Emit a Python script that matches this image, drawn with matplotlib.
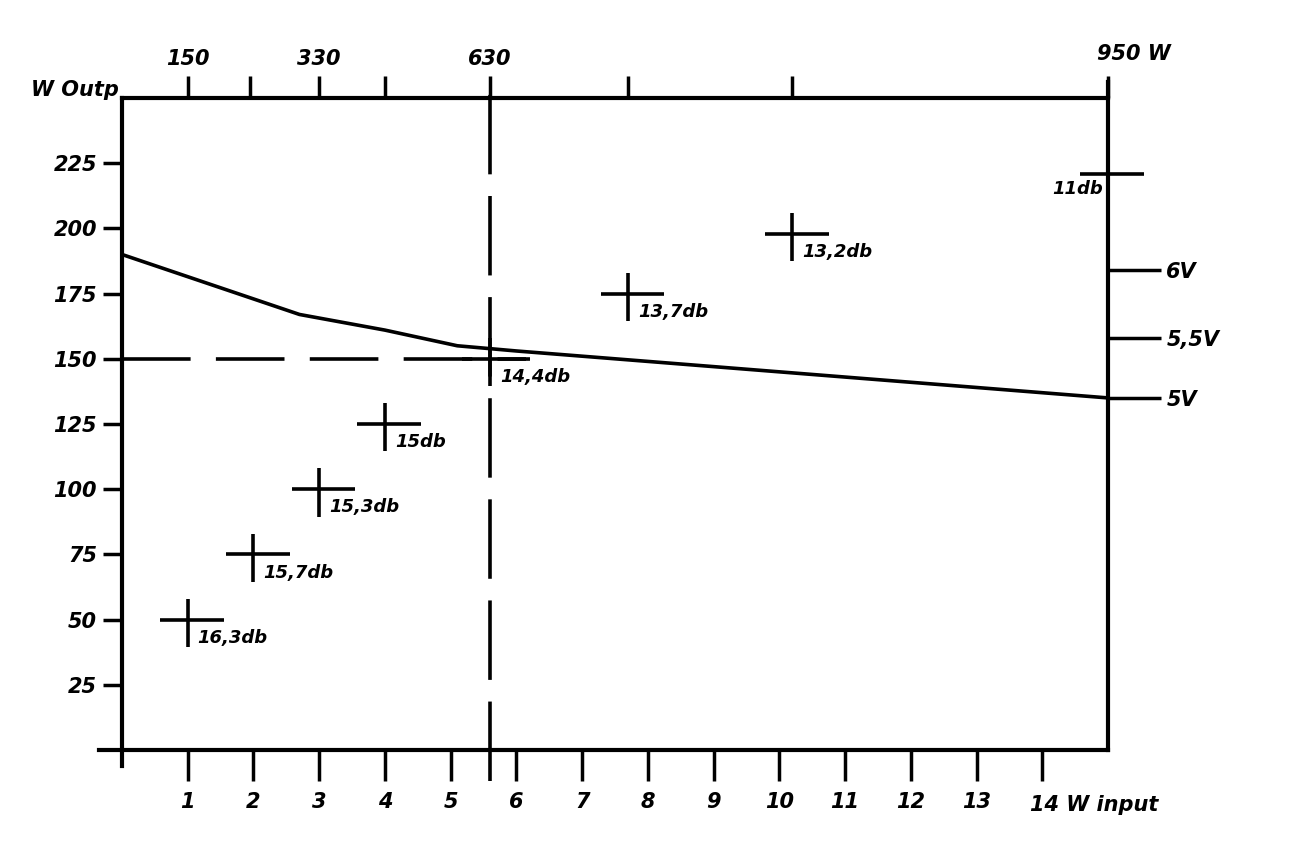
import numpy as np
import matplotlib
matplotlib.use("Agg")
import matplotlib.pyplot as plt

# Ausgangsleistung (W) gegen Eingangsleistung (W), Messpunkte mit Verstaerkung
pin = np.array([1, 2, 3, 4, 5.6, 7.7, 10.2, 15])
pout = np.array([50, 75, 100, 125, 150, 175, 198, 221])
gain_labels = ["16,3db", "15,7db", "15,3db", "15db", "14,4db", "13,7db", "13,2db", "11db"]

# Kurve (Spannung)
curve_x = [0, 2.7, 4, 5.1, 6, 15]
curve_y = [190, 167, 161, 155, 153, 135]

# Achsen
y_ticks = [25, 50, 75, 100, 125, 150, 175, 200, 225]
y_labels = ["25", "50", "75", "100", "125", "150", "175", "200", "225"]
x_ticks = list(range(1, 15))
x_labels = [str(i) for i in range(1, 14)] + [""]
top_ticks = [1, 1.95, 3, 4, 5.6, 7.7, 10.2, 15]
top_labels = ["150", "", "330", "", "630", "", "", ""]
volt_ticks = [135, 158, 184]
volt_labels = ["5V", "5,5V", "6V"]
knee_x = 5.6
knee_y = 150

font = dict(fontweight="bold", fontstyle="italic", family="DejaVu Sans")
LW = 3.0

fig = plt.figure(figsize=(13.15, 8.61), dpi=100)
ax = fig.add_axes([122 / 1315, 111 / 861, 986 / 1315, 652 / 861])
ax.set_xlim(0, 15)
ax.set_ylim(0, 250)

for s in ["left", "bottom", "right", "top"]:
    ax.spines[s].set_linewidth(LW)
ax.spines["left"].set_bounds(-6, 250)
ax.spines["bottom"].set_bounds(-0.35, 15)
ax.spines["right"].set_bounds(0, 256)

ax.set_yticks(y_ticks)
ax.set_yticklabels(y_labels, fontsize=15, **font)
ax.tick_params(axis="y", direction="out", length=14, width=2.5, pad=4)
ax.set_xticks(x_ticks)
ax.set_xticklabels(x_labels, fontsize=15, **font)
ax.tick_params(axis="x", direction="out", length=22, width=2.5, pad=8)

# obere Achse (Ausgangsleistung)
top = ax.secondary_xaxis("top")
top.spines["top"].set_visible(False)
top.set_xticks(top_ticks)
top.set_xticklabels(top_labels, fontsize=15, **font)
top.tick_params(direction="out", length=16, width=2.5, pad=5)
ax.text(15.4, 263, "950 W", fontsize=15, ha="center", va="bottom", **font)

# rechte Achse (Spannung)
right = ax.secondary_yaxis("right")
right.spines["right"].set_visible(False)
right.set_yticks(volt_ticks)
right.set_yticklabels(volt_labels, fontsize=15, **font)
right.tick_params(direction="out", length=38, width=2.5, pad=4)

ax.text(-0.05, 253, "W Outp", fontsize=15, ha="right", va="center", **font)
ax.text(13.82, -21, "14 W input", fontsize=15, ha="left", va="center", **font)

# Kurve
ax.plot(curve_x, curve_y, color="black", lw=2.6, solid_capstyle="round")

# gestrichelte Linien
ax.plot([0, 6.2], [knee_y, knee_y], color="black", lw=2.6, dashes=(19, 7))
ax.plot([knee_x, knee_x], [-12, 256], color="black", lw=2.6, dashes=(22, 6),
        clip_on=False)

# Messpunkte als Kreuze
ax.hlines(pout, pin - 0.42, pin + 0.55, color="black", lw=2.6, clip_on=False)
ax.vlines(pin[:-1], pout[:-1] - 10.5, pout[:-1] + 8, color="black", lw=2.6)

for xv, yv, lab in zip(pin[:-1], pout[:-1], gain_labels[:-1]):
    ax.text(xv + 0.15, yv - 7, lab, fontsize=13, ha="left", va="center", **font)
ax.text(pin[-1] - 0.07, pout[-1] - 6, gain_labels[-1], fontsize=13,
        ha="right", va="center", **font)

fig.savefig("out.png", dpi=100)
